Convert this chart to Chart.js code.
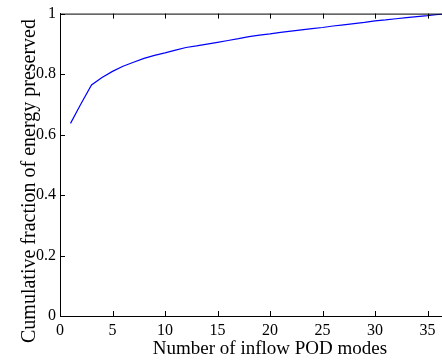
<!DOCTYPE html>
<html>
<head>
<meta charset="utf-8">
<script src="https://cdn.jsdelivr.net/npm/chart.js@4"></script>
<style>
  html, body { margin: 0; padding: 0; background: #fff; overflow: hidden; }
  #wrap { width: 480px; height: 360px; position: relative; }
</style>
</head>
<body>
<div id="wrap"><canvas id="c"></canvas></div>
<script>
// Number of retained POD modes
const modes = [1, 2, 3, 4, 5, 6, 7, 8, 9, 10, 11, 12, 13, 14, 15, 16, 17, 18, 19,
  20, 21, 22, 23, 24, 25, 26, 27, 28, 29, 30, 31, 32, 33, 34, 35, 36, 37];
// Cumulative fraction of energy captured by the first n modes
const energyFraction = [0.637, 0.702, 0.764, 0.789, 0.809, 0.826, 0.839, 0.852, 0.862, 0.870,
  0.879, 0.888, 0.893, 0.899, 0.905, 0.911, 0.917, 0.924, 0.929, 0.933,
  0.938, 0.942, 0.946, 0.950, 0.954, 0.959, 0.963, 0.967, 0.971, 0.976,
  0.979, 0.983, 0.987, 0.990, 0.993, 0.997, 1.000];
// Axis tick labels
const xTicks = [0, 5, 10, 15, 20, 25, 30, 35];
const yTicks = [0, 0.2, 0.4, 0.6, 0.8, 1];
const yTitle = 'Cumulative fraction of energy preserved';

const serif = "'Liberation Serif', 'Times New Roman', serif";
Chart.defaults.font.family = serif;
Chart.defaults.color = '#000';

// Inward-pointing tick marks, the top frame line and the y-axis label
const boxTicks = {
  id: 'boxTicks',
  afterDraw(chart) {
    const { ctx, chartArea: a, scales: { x, y } } = chart;
    const len = 5;
    ctx.save();
    ctx.strokeStyle = '#000';
    ctx.lineWidth = 1;
    ctx.beginPath();
    ctx.moveTo(a.left, a.top + 0.5);
    ctx.lineTo(a.right, a.top + 0.5);
    x.ticks.forEach(t => {
      const px = Math.round(x.getPixelForValue(t.value)) + 0.5;
      ctx.moveTo(px, a.bottom);
      ctx.lineTo(px, a.bottom - len);
      ctx.moveTo(px, a.top);
      ctx.lineTo(px, a.top + len);
    });
    y.ticks.forEach(t => {
      const py = Math.round(y.getPixelForValue(t.value)) + 0.5;
      ctx.moveTo(a.left, py);
      ctx.lineTo(a.left + len, py);
    });
    ctx.stroke();

    ctx.translate(30, 181);
    ctx.rotate(-Math.PI / 2);
    ctx.fillStyle = '#000';
    ctx.font = '20px ' + serif;
    ctx.textAlign = 'center';
    ctx.textBaseline = 'middle';
    ctx.fillText(yTitle, 0, 0);
    ctx.restore();
  }
};

new Chart(document.getElementById('c'), {
  type: 'line',
  data: {
    datasets: [{
      data: modes.map((m, i) => ({ x: m, y: energyFraction[i] })),
      borderColor: '#0000ff',
      borderWidth: 1.2,
      pointRadius: 0,
      tension: 0,
      fill: false
    }]
  },
  options: {
    responsive: true,
    maintainAspectRatio: false,
    animation: false,
    layout: { padding: { top: 10, right: 0, bottom: 0, left: 0 } },
    plugins: { legend: { display: false }, tooltip: { enabled: false } },
    scales: {
      x: {
        type: 'linear',
        min: 0,
        max: 40,
        afterBuildTicks: s => { s.ticks = xTicks.map(v => ({ value: v })); },
        afterFit: s => { s.height = 44; },
        grid: { display: false, drawTicks: false },
        border: { display: true, color: '#000', width: 1 },
        ticks: {
          color: '#000',
          padding: 5,
          maxRotation: 0,
          font: { family: serif, size: 16 }
        },
        title: {
          display: true,
          text: 'Number of inflow POD modes',
          color: '#000',
          padding: { top: 0, bottom: 0 },
          font: { family: serif, size: 19 }
        }
      },
      y: {
        min: 0,
        max: 1,
        afterBuildTicks: s => { s.ticks = yTicks.map(v => ({ value: v })); },
        afterFit: s => { s.width = 60; },
        grid: { display: false, drawTicks: false },
        border: { display: true, color: '#000', width: 1 },
        ticks: {
          color: '#000',
          padding: 4,
          font: { family: serif, size: 16 },
          callback: v => String(v)
        },
        title: { display: false }
      }
    }
  },
  plugins: [boxTicks]
});
</script>
</body>
</html>
